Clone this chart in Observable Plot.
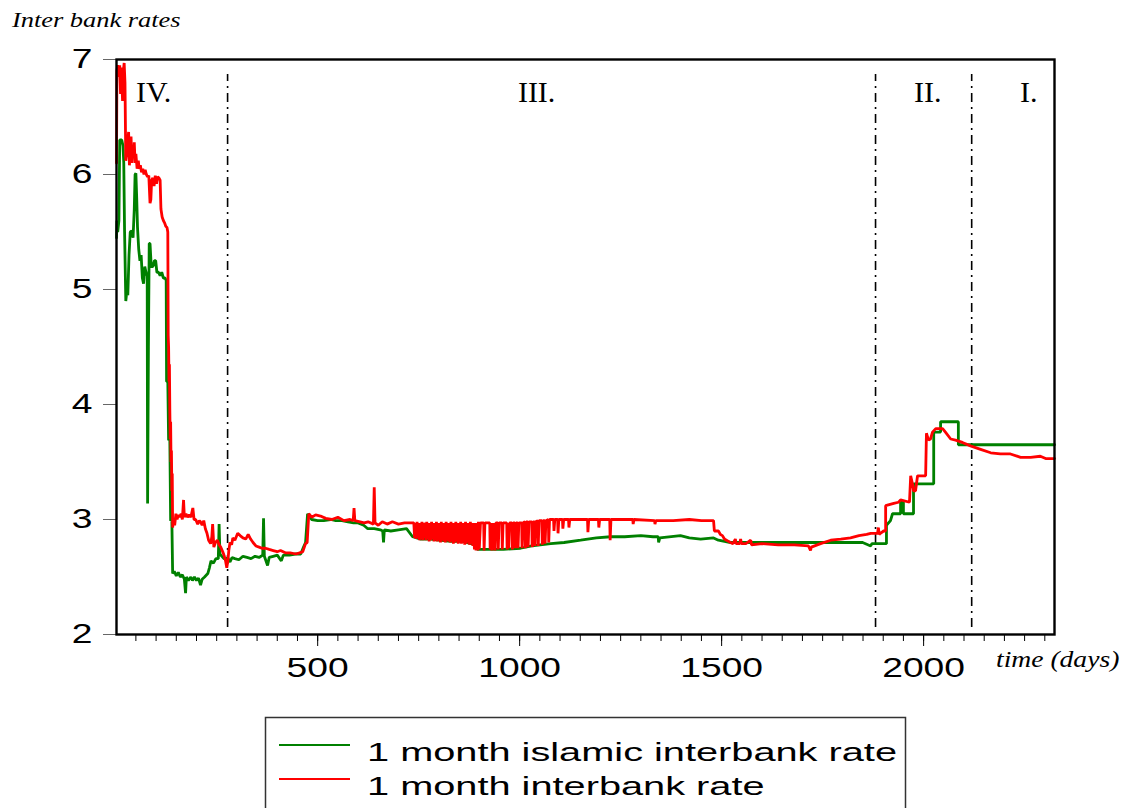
<!DOCTYPE html>
<html>
<head>
<meta charset="utf-8">
<script src="https://cdn.jsdelivr.net/npm/d3@7"></script>
<script src="https://cdn.jsdelivr.net/npm/@observablehq/plot@0.6"></script>
<style>
  html, body { margin: 0; padding: 0; background: #fff; overflow: hidden; width: 1125px; height: 808px; }
  #wrap { position: relative; width: 1125px; height: 808px; }
  #overlay { position: absolute; left: 0; top: 0; pointer-events: none; }
</style>
</head>
<body>
<div id="wrap"></div>
<script>
// ---- data (day, rate) ----
const islamic = [
  [2,5.45],[3,5.6],[5,5.5],[8,5.6],[10,6.3],[15,6.3],[18,6.25],[20,6.1],[22,5.5],[25,4.9],[28,5.0],[30,4.95],
  [33,5.3],[36,5.5],[40,5.51],[43,5.45],[46,5.7],[48,6.0],[50,6.01],[52,5.8],[54,5.54],[57,5.35],[60,5.25],
  [63,5.3],[66,5.1],[69,5.05],[72,5.2],[75,5.15],[78,5.12],[79,3.14],[81,4.5],[83,5.4],[85,5.4],[88,5.2],
  [92,5.2],[96,5.25],[99,5.25],[102,5.15],[106,5.15],[110,5.12],[114,5.15],[118,5.1],[122,5.1],[125,5.08],
  [126,4.2],[129,4.2],[131,3.69],[134,3.7],[136,2.99],[139,3.0],[141,2.53],[145,2.55],[150,2.51],[155,2.54],
  [160,2.5],[165,2.52],[170,2.48],[173,2.36],[175,2.5],[180,2.47],[186,2.5],[190,2.47],[195,2.5],[200,2.47],
  [205,2.49],[210,2.43],[214,2.48],[220,2.5],[228,2.53],[232,2.58],[236,2.64],[242,2.62],[248,2.66],[254,2.66],
  [256,2.96],[258,2.7],[263,2.68],[268,2.66],[273,2.65],[277,2.67],[283,2.63],[288,2.67],[295,2.66],[305,2.65],
  [315,2.68],[325,2.67],[335,2.66],[345,2.68],[355,2.67],[364,2.69],[366,3.01],[368,2.68],[376,2.6],[380,2.67],
  [390,2.68],[400,2.69],[410,2.64],[415,2.69],[430,2.69],[445,2.7],[458,2.7],[465,2.76],[470,2.8],[475,3.05],
  [485,3.0],[500,2.99],[515,2.99],[532,3.0],[545,2.99],[560,2.99],[575,2.98],[589,2.97],[600,2.97],[614,2.95],
  [624,2.92],[640,2.92],[655,2.91],[661,2.9],[663,2.8],[665,2.91],[681,2.9],[700,2.91],[720,2.92],[735,2.85],
  [755,2.83],[780,2.83],[800,2.82],[830,2.81],[860,2.81],[879,2.79],[891,2.79],[895,2.74],[930,2.74],[960,2.74],
  [1002,2.75],[1030,2.77],[1077,2.79],[1110,2.8],[1151,2.82],[1190,2.84],[1225,2.85],[1260,2.85],[1300,2.86],
  [1330,2.85],[1343,2.85],[1344,2.8],[1347,2.84],[1398,2.86],[1420,2.84],[1448,2.83],[1480,2.84],[1492,2.82],
  [1522,2.8],[1600,2.8],[1700,2.8],[1800,2.8],[1849,2.8],[1869,2.77],[1872,2.79],[1908,2.79],[1908,2.95],
  [1918,2.99],[1923,3.05],[1943,3.05],[1943,3.15],[1950,3.15],[1950,3.05],[1975,3.05],[1975,3.31],[2025,3.31],
  [2025,3.76],[2042,3.76],[2042,3.85],[2086,3.85],[2086,3.65],[2324,3.65]
];

const interbank = [
  [2,6.1],[3,6.9],[5,6.95],[8,6.85],[10,6.95],[12,6.7],[14,6.93],[17,6.64],[19,6.9],[21,6.97],[23,6.8],[25,6.12],
  [28,6.2],[30,6.3],[32,6.37],[34,6.08],[36,6.2],[38,6.33],[40,6.1],[42,6.25],[44,6.15],[46,6.28],[48,6.1],
  [50,6.18],[53,6.05],[56,6.12],[58,6.05],[61,6.08],[64,6.02],[67,6.05],[70,6.0],[73,6.04],[76,6.0],[79,5.98],
  [82,5.99],[85,5.75],[87,5.78],[89,5.95],[92,5.97],[95,5.9],[98,5.99],[101,5.92],[104,5.98],[107,5.97],[110,5.95],
  [112,5.7],[115,5.63],[118,5.6],[121,5.58],[124,5.55],[127,5.54],[129,5.5],[130,4.6],[131,4.5],[132,4.2],
  [133,4.35],[134,3.95],[135,3.7],[136,3.85],[137,3.5],[138,3.6],[139,3.25],[140,3.4],[141,2.93],[143,3.0],
  [146,2.95],[149,3.05],[152,3.0],[155,3.04],[158,3.02],[162,3.05],[165,3.0],[168,3.17],[170,3.02],[174,3.05],
  [178,3.02],[182,3.04],[186,3.02],[191,3.1],[194,3.0],[198,3.0],[203,2.96],[207,2.99],[210,2.98],[214,2.95],
  [218,2.99],[222,2.92],[226,2.88],[230,2.82],[235,2.79],[238,2.85],[240,2.96],[243,2.76],[247,2.8],[252,2.82],
  [256,2.78],[260,2.76],[265,2.72],[269,2.68],[272,2.64],[275,2.58],[278,2.65],[280,2.73],[283,2.8],[287,2.78],
  [290,2.84],[295,2.82],[302,2.88],[308,2.86],[315,2.84],[322,2.83],[328,2.87],[334,2.83],[340,2.8],[347,2.77],
  [355,2.76],[362,2.75],[371,2.75],[380,2.74],[390,2.73],[400,2.72],[408,2.73],[420,2.71],[432,2.71],[446,2.7],
  [455,2.71],[463,2.72],[467,2.76],[470,2.79],[474,2.8],[478,3.05],[485,3.02],[495,3.04],[507,3.03],[520,3.01],
  [535,3.0],[550,3.02],[565,2.99],[580,3.0],[588,2.99],[590,3.1],[592,2.99],[605,2.98],[615,2.97],[625,2.98],
  [638,2.96],[640,3.28],[642,2.97],[650,2.95],[660,2.98],[672,2.96],[685,2.98],[700,2.96],[715,2.97],[730,2.97],
  [738,2.97],[740,2.84],[742,2.97],[744,2.83],[746,2.98],[748,2.84],[750,2.97],[752,2.82],[754,2.97],[756,2.83],
  [758,2.98],[760,2.82],[762,2.97],[764,2.84],[766,2.97],[768,2.82],[770,2.98],[772,2.83],[774,2.97],[776,2.81],
  [778,2.97],[780,2.82],[782,2.98],[784,2.83],[786,2.97],[788,2.81],[790,2.97],[792,2.82],[794,2.98],[796,2.81],
  [798,2.97],[800,2.82],[802,2.97],[804,2.8],[806,2.98],[808,2.82],[810,2.97],[812,2.81],[814,2.97],[816,2.8],
  [818,2.98],[820,2.82],[822,2.97],[824,2.81],[826,2.97],[828,2.8],[830,2.98],[832,2.81],[834,2.97],[836,2.79],
  [838,2.97],[840,2.8],[842,2.98],[844,2.81],[846,2.97],[848,2.79],[850,2.97],[852,2.8],[854,2.98],[856,2.79],
  [858,2.97],[860,2.8],[862,2.97],[864,2.78],[866,2.98],[868,2.79],[870,2.97],[872,2.8],[874,2.97],[876,2.78],
  [878,2.98],[880,2.79],[882,2.97],[884,2.77],[886,2.97],[888,2.74],[890,2.97],[892,2.73],[894,2.97],[896,2.73],
  [898,2.98],[900,2.74],[903,2.97],[911,2.97],[912,2.73],[914,2.97],[926,2.97],[927,2.74],[929,2.97],[931,2.73],
  [933,2.97],[935,2.74],[937,2.97],[939,2.73],[941,2.97],[946,2.97],[947,2.74],[949,2.97],[956,2.97],[957,2.74],
  [959,2.97],[968,2.97],[969,2.74],[971,2.97],[973,2.75],[975,2.97],[981,2.97],[982,2.74],[984,2.97],[988,2.97],
  [989,2.75],[991,2.97],[995,2.97],[996,2.75],[998,2.97],[1005,2.97],[1006,2.75],[1008,2.97],[1013,2.98],
  [1014,2.75],[1016,2.98],[1020,2.98],[1021,2.76],[1023,2.98],[1030,2.98],[1031,2.76],[1033,2.98],[1037,2.98],
  [1038,2.77],[1040,2.98],[1045,2.99],[1046,2.77],[1048,2.99],[1055,2.99],[1056,2.78],[1058,2.99],[1062,2.99],
  [1063,2.79],[1065,2.99],[1071,3.0],[1072,2.8],[1074,3.0],[1084,3.0],[1085,2.9],[1087,3.0],[1094,3.0],
  [1095,2.88],[1097,3.0],[1106,3.0],[1107,2.92],[1109,3.0],[1121,3.0],[1122,2.93],[1124,3.0],[1150,3.0],
  [1168,3.0],[1169,2.89],[1171,3.0],[1195,3.0],[1196,2.93],[1198,3.0],[1223,3.0],[1224,2.82],[1226,3.0],
  [1280,3.0],[1281,2.96],[1283,3.0],[1334,2.99],[1335,2.96],[1337,2.99],[1380,2.99],[1420,3.0],[1450,2.99],
  [1480,2.99],[1482,2.9],[1492,2.9],[1497,2.87],[1502,2.86],[1507,2.83],[1512,2.82],[1517,2.81],[1522,2.8],
  [1528,2.79],[1534,2.83],[1536,2.79],[1545,2.79],[1547,2.83],[1549,2.79],[1560,2.79],[1572,2.82],[1574,2.78],
  [1600,2.79],[1640,2.78],[1680,2.78],[1715,2.77],[1720,2.73],[1722,2.76],[1745,2.79],[1770,2.82],[1795,2.83],
  [1819,2.84],[1840,2.86],[1859,2.87],[1869,2.88],[1886,2.88],[1888,2.93],[1890,2.87],[1893,2.88],[1901,2.9],
  [1906,2.9],[1906,3.12],[1926,3.14],[1938,3.15],[1943,3.17],[1965,3.15],[1968,3.38],[1973,3.3],[1975,3.25],
  [1980,3.25],[1985,3.38],[2005,3.38],[2007,3.75],[2012,3.69],[2017,3.7],[2022,3.76],[2030,3.79],[2047,3.79],
  [2054,3.76],[2067,3.7],[2079,3.69],[2096,3.67],[2116,3.64],[2141,3.61],[2166,3.58],[2190,3.57],[2215,3.57],
  [2240,3.54],[2265,3.54],[2289,3.55],[2302,3.53],[2324,3.53]
];

const phaseBreaks = [277, 1881, 2119];
const phaseLabels = ["IV.", "III.", "II.", "I."];
const phaseLabelDays = [94, 1042, 2010, 2260];
const yTicks = [2, 3, 4, 5, 6, 7];
const xTicks = [500, 1000, 1500, 2000];
const xMinorTicks = d3.range(50, 2301, 50);
const seriesNames = ["1 month islamic interbank rate", "1 month interbank rate"];
const seriesColors = ["#008000", "#ff0000"];
const titleText = "Inter bank rates";
const xLabelText = "time (days)";

const phaseTable = phaseLabels.map((t, i) => ({label: t, day: phaseLabelDays[i]}));

const chart = Plot.plot({
  width: 1125,
  height: 700,
  marginLeft: 116,
  marginRight: 71,
  marginTop: 59,
  marginBottom: 66,
  style: {fontFamily: "Liberation Sans, Arial, sans-serif", background: "white", color: "black"},
  x: {domain: [2, 2324]},
  y: {domain: [2, 7]},
  marks: [
    Plot.axisX({ticks: xMinorTicks, tickSize: 7, text: null, label: null, stroke: "black"}),
    Plot.axisX({ticks: xTicks, tickSize: 12, tickPadding: 11, fontSize: 28, label: null, stroke: "black", tickFormat: d => String(d)}),
    Plot.axisY({ticks: yTicks, tickSize: 13, tickPadding: 11, fontSize: 28, label: null, stroke: "#666", tickFormat: d => String(d)}),
    Plot.ruleX(phaseBreaks, {y1: 2.06, y2: 6.87, stroke: "black", strokeWidth: 1.6, strokeDasharray: "9,5,2,5"}),
    Plot.line(islamic, {x: d => d[0], y: d => d[1], stroke: seriesColors[0], strokeWidth: 2.8, strokeLinejoin: "miter"}),
    Plot.line(interbank, {x: d => d[0], y: d => d[1], stroke: seriesColors[1], strokeWidth: 2.8, strokeLinejoin: "miter"}),
    Plot.text(phaseTable, {x: "day", y: 6.71, text: "label", fontSize: 30, fontFamily: "Liberation Serif, Times New Roman, serif", fill: "black", textAnchor: "middle"}),
    Plot.frame({stroke: "black", strokeWidth: 2.4})
  ]
});

// stretch tick labels horizontally as in the reference (wide glyphs)
function stretch(el, s) {
  const x = +el.getAttribute("x") || 0;
  const t = el.getAttribute("transform") || "";
  el.setAttribute("transform", `${t} translate(${x},0) scale(${s},1) translate(${-x},0)`);
}
chart.querySelectorAll('g[aria-label="x-axis tick label"] text, g[aria-label="y-axis tick label"] text')
  .forEach(el => stretch(el, 1.33));

const wrap = document.getElementById("wrap");
wrap.appendChild(chart);

// overlay: title, axis caption, legend
const ov = d3.create("svg")
  .attr("id", "overlay")
  .attr("width", 1125).attr("height", 808);

ov.append("text")
  .attr("x", 12).attr("y", 27)
  .attr("font-family", "Liberation Serif, Times New Roman, serif")
  .attr("font-style", "italic").attr("font-size", 22)
  .attr("transform", "translate(12,0) scale(1.2,1) translate(-12,0)")
  .text(titleText);

ov.append("text")
  .attr("x", 996).attr("y", 667)
  .attr("font-family", "Liberation Serif, Times New Roman, serif")
  .attr("font-style", "italic").attr("font-size", 23)
  .attr("transform", "translate(996,0) scale(1.2,1) translate(-996,0)")
  .text(xLabelText);

ov.append("rect")
  .attr("x", 265.5).attr("y", 717.5).attr("width", 640).attr("height", 120)
  .attr("fill", "none").attr("stroke", "#333").attr("stroke-width", 1.5);

const legendY = [745, 779];
seriesNames.forEach((name, i) => {
  ov.append("line")
    .attr("x1", 279).attr("x2", 350).attr("y1", legendY[i]).attr("y2", legendY[i])
    .attr("stroke", seriesColors[i]).attr("stroke-width", 2);
  ov.append("text")
    .attr("x", 367).attr("y", legendY[i] + 16)
    .attr("font-family", "Liberation Sans, Arial, sans-serif")
    .attr("font-size", 26.5)
    .attr("transform", "translate(367,0) scale(1.5,1) translate(-367,0)")
    .text(name);
});

wrap.appendChild(ov.node());
</script>
</body>
</html>
